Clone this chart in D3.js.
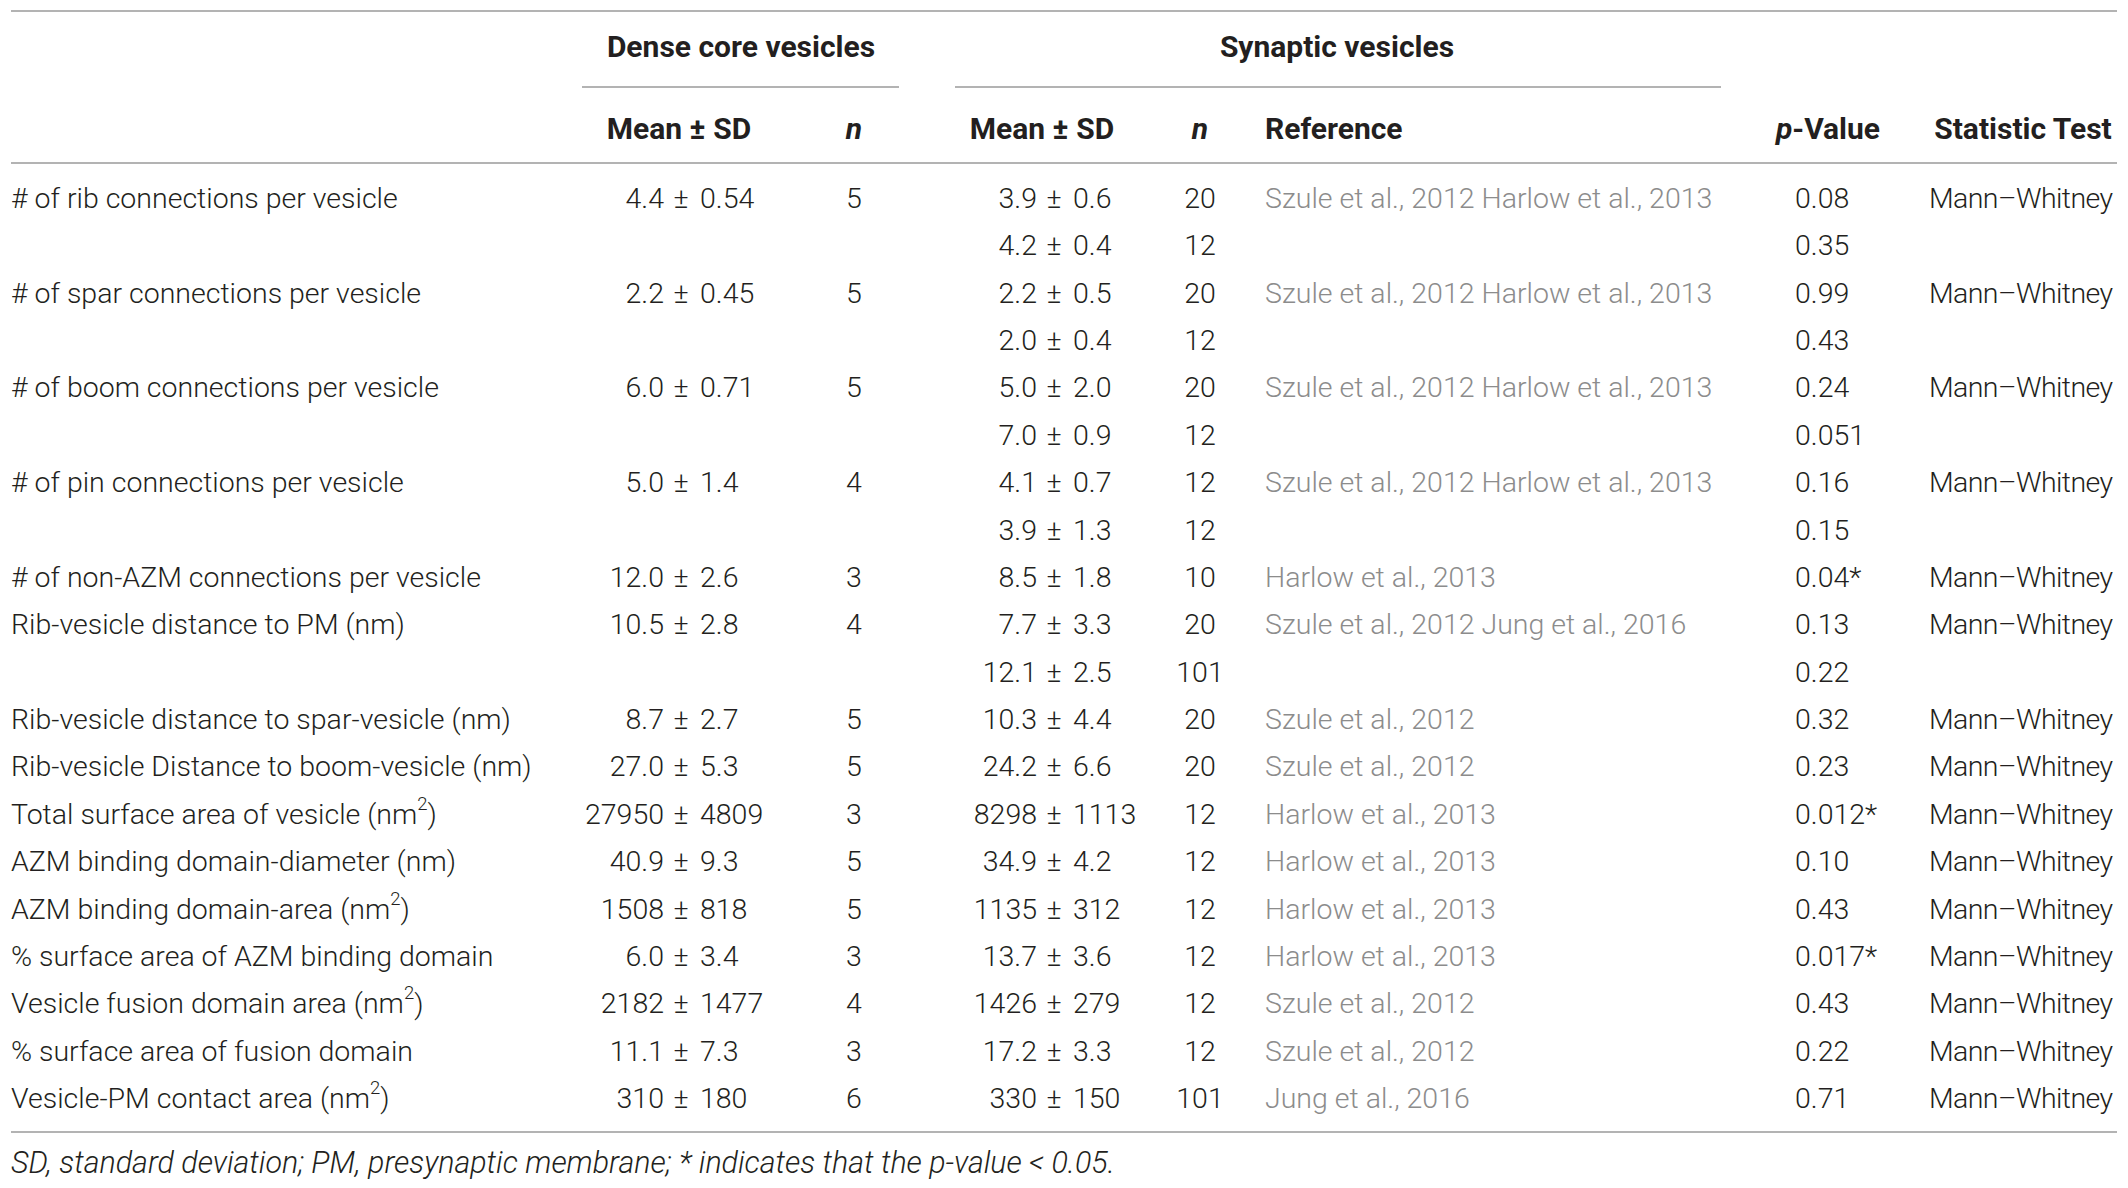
<!DOCTYPE html>
<html>
<head>
<meta charset="utf-8">
<script src="https://cdn.jsdelivr.net/npm/d3@7"></script>
<style>
  html, body { margin: 0; padding: 0; background: #fff; }
  svg text { font-family: Roboto, "Liberation Sans", Arial, sans-serif; }
</style>
</head>
<body>
<svg id="chart" width="2128" height="1188"></svg>
<script>
// table contents, one entry per printed row
const rowLabels = [
  "# of rib connections per vesicle", "",
  "# of spar connections per vesicle", "",
  "# of boom connections per vesicle", "",
  "# of pin connections per vesicle", "",
  "# of non-AZM connections per vesicle",
  "Rib-vesicle distance to PM (nm)", "",
  "Rib-vesicle distance to spar-vesicle (nm)",
  "Rib-vesicle Distance to boom-vesicle (nm)",
  "Total surface area of vesicle (nm^2)",
  "AZM binding domain-diameter (nm)",
  "AZM binding domain-area (nm^2)",
  "% surface area of AZM binding domain",
  "Vesicle fusion domain area (nm^2)",
  "% surface area of fusion domain",
  "Vesicle-PM contact area (nm^2)"
];
const dcvMean = ["4.4", "", "2.2", "", "6.0", "", "5.0", "", "12.0", "10.5", "", "8.7", "27.0", "27950", "40.9", "1508", "6.0", "2182", "11.1", "310"];
const dcvSD   = ["0.54", "", "0.45", "", "0.71", "", "1.4", "", "2.6", "2.8", "", "2.7", "5.3", "4809", "9.3", "818", "3.4", "1477", "7.3", "180"];
const dcvN    = ["5", "", "5", "", "5", "", "4", "", "3", "4", "", "5", "5", "3", "5", "5", "3", "4", "3", "6"];
const svMean  = ["3.9", "4.2", "2.2", "2.0", "5.0", "7.0", "4.1", "3.9", "8.5", "7.7", "12.1", "10.3", "24.2", "8298", "34.9", "1135", "13.7", "1426", "17.2", "330"];
const svSD    = ["0.6", "0.4", "0.5", "0.4", "2.0", "0.9", "0.7", "1.3", "1.8", "3.3", "2.5", "4.4", "6.6", "1113", "4.2", "312", "3.6", "279", "3.3", "150"];
const svN     = ["20", "12", "20", "12", "20", "12", "12", "12", "10", "20", "101", "20", "20", "12", "12", "12", "12", "12", "12", "101"];
const references = [
  "Szule et al., 2012 Harlow et al., 2013", "",
  "Szule et al., 2012 Harlow et al., 2013", "",
  "Szule et al., 2012 Harlow et al., 2013", "",
  "Szule et al., 2012 Harlow et al., 2013", "",
  "Harlow et al., 2013",
  "Szule et al., 2012 Jung et al., 2016", "",
  "Szule et al., 2012", "Szule et al., 2012",
  "Harlow et al., 2013", "Harlow et al., 2013", "Harlow et al., 2013", "Harlow et al., 2013",
  "Szule et al., 2012", "Szule et al., 2012",
  "Jung et al., 2016"
];
const pValues = ["0.08", "0.35", "0.99", "0.43", "0.24", "0.051", "0.16", "0.15", "0.04*", "0.13", "0.22", "0.32", "0.23", "0.012*", "0.10", "0.43", "0.017*", "0.43", "0.22", "0.71"];
const tests = ["Mann\u2013Whitney", "", "Mann\u2013Whitney", "", "Mann\u2013Whitney", "", "Mann\u2013Whitney", "",
  "Mann\u2013Whitney", "Mann\u2013Whitney", "", "Mann\u2013Whitney", "Mann\u2013Whitney", "Mann\u2013Whitney",
  "Mann\u2013Whitney", "Mann\u2013Whitney", "Mann\u2013Whitney", "Mann\u2013Whitney", "Mann\u2013Whitney", "Mann\u2013Whitney"];
const footnote = "SD, standard deviation; PM, presynaptic membrane; * indicates that the p-value < 0.05.";

const svg = d3.select("#chart");
const fontSize = 28.5;
const headSize = 30;
const textColor = "#231f20";
const ruleColor = "#b3b3b3";

// column anchors
const col = {
  label: 11,
  dcvPm: 681,
  dcvN: 854,
  svPm: 1054,
  svN: 1200,
  ref: 1265,
  p: 1795,
  test: 1929
};

const y = d3.scaleBand()
  .domain(d3.range(rowLabels.length))
  .range([174.3, 1121.7]);
const yc = i => y(i) + y.bandwidth() / 2;

function rule(x1, x2, yy) {
  svg.append("line")
    .attr("x1", x1).attr("x2", x2)
    .attr("y1", yy).attr("y2", yy)
    .attr("stroke", ruleColor)
    .attr("stroke-width", 2);
}

rule(11, 2117, 11);
rule(582, 899, 87);
rule(955, 1721, 87);
rule(11, 2117, 163);
rule(11, 2117, 1132);

// header
const head = svg.append("g")
  .attr("font-size", headSize)
  .attr("font-weight", "bold")
  .attr("fill", textColor);

head.append("text").attr("x", 741).attr("y", 46).attr("dy", "0.35em")
  .attr("text-anchor", "middle").text("Dense core vesicles");
head.append("text").attr("x", 1337).attr("y", 46).attr("dy", "0.35em")
  .attr("text-anchor", "middle").text("Synaptic vesicles");

const subY = 128;
head.append("text").attr("x", 679).attr("y", subY).attr("dy", "0.35em")
  .attr("text-anchor", "middle").text("Mean \u00b1 SD");
head.append("text").attr("x", col.dcvN).attr("y", subY).attr("dy", "0.35em")
  .attr("text-anchor", "middle").attr("font-style", "italic").text("n");
head.append("text").attr("x", 1042).attr("y", subY).attr("dy", "0.35em")
  .attr("text-anchor", "middle").text("Mean \u00b1 SD");
head.append("text").attr("x", col.svN).attr("y", subY).attr("dy", "0.35em")
  .attr("text-anchor", "middle").attr("font-style", "italic").text("n");
head.append("text").attr("x", col.ref).attr("y", subY).attr("dy", "0.35em")
  .text("Reference");
const pv = head.append("text").attr("x", 1828).attr("y", subY).attr("dy", "0.35em")
  .attr("text-anchor", "middle");
pv.append("tspan").attr("font-style", "italic").text("p");
pv.append("tspan").text("-Value");
head.append("text").attr("x", 2023).attr("y", subY).attr("dy", "0.35em")
  .attr("text-anchor", "middle").text("Statistic Test");

// body
const body = svg.append("g")
  .attr("font-size", fontSize)
  .attr("font-weight", 300)
  .attr("fill", textColor);

const rows = body.selectAll("g.row")
  .data(d3.range(rowLabels.length))
  .join("g")
  .attr("class", "row")
  .attr("transform", i => `translate(0,${yc(i)})`);

// label with optional superscript
rows.append("text")
  .attr("x", col.label)
  .attr("dy", "0.35em")
  .each(function(i) {
    const parts = rowLabels[i].split("^2");
    const t = d3.select(this);
    t.append("tspan").text(parts[0]);
    if (parts.length > 1) {
      t.append("tspan").attr("font-size", fontSize * 0.65).attr("dy", "-0.75em").text("2");
      t.append("tspan").attr("dy", "0.5em").text(parts[1]);
    }
  });

function meanSD(xPm, means, sds) {
  const g = rows.filter(i => means[i] !== "");
  g.append("text").attr("x", xPm - 17).attr("dy", "0.35em")
    .attr("text-anchor", "end").text(i => means[i]);
  g.append("text").attr("x", xPm).attr("dy", "0.35em")
    .attr("text-anchor", "middle").text("\u00b1");
  g.append("text").attr("x", xPm + 19).attr("dy", "0.35em")
    .text(i => sds[i]);
}
meanSD(col.dcvPm, dcvMean, dcvSD);
meanSD(col.svPm, svMean, svSD);

rows.append("text").attr("x", col.dcvN).attr("dy", "0.35em")
  .attr("text-anchor", "middle").text(i => dcvN[i]);
rows.append("text").attr("x", col.svN).attr("dy", "0.35em")
  .attr("text-anchor", "middle").text(i => svN[i]);
rows.append("text").attr("x", col.ref).attr("dy", "0.35em")
  .attr("fill", "#8c8c8c").text(i => references[i]);
rows.append("text").attr("x", col.p).attr("dy", "0.35em")
  .text(i => pValues[i]);
rows.append("text").attr("x", col.test).attr("dy", "0.35em")
  .attr("textLength", i => tests[i] ? 184 : null)
  .text(i => tests[i]);

svg.append("text")
  .attr("x", 11).attr("y", 1162).attr("dy", "0.35em")
  .attr("font-size", 30.4)
  .attr("font-weight", 300)
  .attr("font-style", "italic")
  .attr("fill", textColor)
  .text(footnote);
</script>
</body>
</html>
